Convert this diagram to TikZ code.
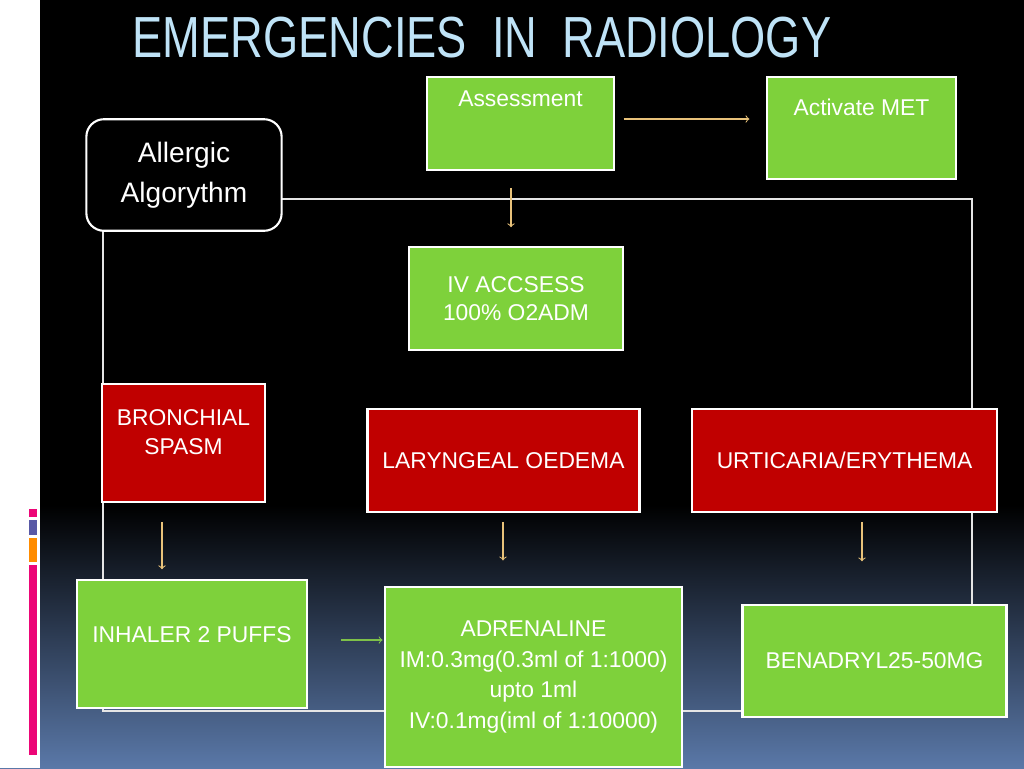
\documentclass[tikz,border=0pt]{standalone}
\usepackage{fontspec}
\setmainfont{Liberation Sans}
\usetikzlibrary{positioning}
\definecolor{boxgreen}{HTML}{7ED13B}
\definecolor{boxred}{HTML}{C00000}
\definecolor{titleblue}{HTML}{BFE3F7}
\definecolor{arrowyel}{HTML}{E8C27A}
\definecolor{bgblue}{HTML}{5A78A8}
\def\px{0.567pt}
\tikzset{
  greenbox/.style={draw=white, line width=1.2pt, fill=boxgreen, text=white, font=\fontsize{13}{16}\selectfont, align=center, inner sep=0pt},
  redbox/.style={greenbox, fill=boxred},
  flow/.style={->, arrowyel, line width=0.6pt},
}
\begin{document}
\begin{tikzpicture}[x=0.02cm, y=-0.02cm]
\useasboundingbox (0,0) rectangle (1024,768);
% background
\fill[black] (0,0) rectangle (1024,768);
\shade[top color=black, bottom color=bgblue] (0,505) rectangle (1024,768);
\fill[white] (0,0) rectangle (40,768);
\fill[magenta!80!red] (29,509) rectangle (37,517);
\fill[gray!70!blue] (29,520) rectangle (37,535);
\fill[orange!90!yellow] (29,538) rectangle (37,562);
\fill[magenta!80!red] (29,565) rectangle (37,755);

\node[text=titleblue, font=\fontsize{33}{36}\selectfont, xscale=0.78, transform shape] (title) at (482,38) {EMERGENCIES\ \ IN\ \ RADIOLOGY};

% frame behind the boxes
\draw[white!80!gray, line width=0.6pt] (103,199) rectangle (972,711);

\node[greenbox, minimum width=187*\px, minimum height=93*\px, text depth=50*\px] (assess) at (520.5,123.5) {Assessment};
\node[greenbox, minimum width=189*\px, minimum height=102*\px, text depth=42*\px] (met) at (861.5,128) {Activate MET};
\node[draw=white, line width=1.2pt, fill=black, text=white, rounded corners=10pt, minimum width=196*\px, minimum height=112*\px, inner sep=0pt, align=center, font=\fontsize{16}{23}\selectfont] (allergic) at (184,175) {Allergic\\Algorythm};
\node[greenbox, minimum width=214*\px, minimum height=103*\px] (iv) at (516,298.5) {IV ACCSESS\\100\% O2ADM};
\node[redbox, minimum width=163*\px, minimum height=118*\px, text depth=22*\px] (bronch) at (183.5,443) {BRONCHIAL\\SPASM};
\node[redbox, minimum width=273*\px, minimum height=103*\px] (laryn) at (503.5,460.5) {LARYNGEAL OEDEMA};
\node[redbox, minimum width=307*\px, minimum height=103*\px] (urtic) at (844.5,460.5) {URTICARIA/ERYTHEMA};
\node[greenbox, minimum width=230*\px, minimum height=128*\px, text depth=20*\px] (inhaler) at (192,644) {INHALER 2 PUFFS};
\node[greenbox, minimum width=299*\px, minimum height=180*\px, font=\fontsize{13}{17.5}\selectfont] (adren) at (533.5,677) {ADRENALINE\\IM:0.3mg(0.3ml of 1:1000)\\upto 1ml\\IV:0.1mg(iml of 1:10000)};
\node[greenbox, minimum width=265*\px, minimum height=112*\px] (benad) at (874.5,661) {BENADRYL25-50MG};

% arrows
\draw[flow, shorten <=9*\px, shorten >=17*\px] (assess.east |- 0,119) -- (met.west |- 0,119);
\draw[flow, shorten <=17*\px, shorten >=19*\px] (assess.south -| 511,0) -- (iv.north -| 511,0);
\draw[flow, shorten <=19*\px, shorten >=10*\px] (bronch.south -| 162,0) -- (inhaler.north -| 162,0);
\draw[flow, shorten <=9*\px, shorten >=26*\px] (laryn.south -| 503,0) -- (adren.north -| 503,0);
\draw[flow, shorten <=9*\px, shorten >=43*\px] (urtic.south -| 862,0) -- (benad.north -| 862,0);
\draw[->, boxgreen!80!gray, line width=0.6pt, shorten <=34*\px, shorten >=1*\px] (inhaler.east |- 0,640) -- (adren.west |- 0,640);
\end{tikzpicture}
\end{document}
